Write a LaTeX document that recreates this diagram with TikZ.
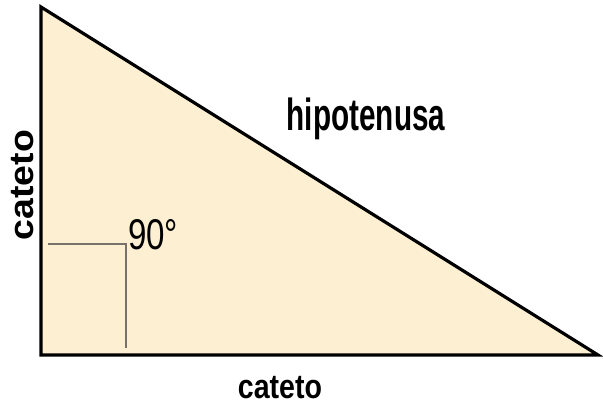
\documentclass[tikz,border=0pt]{standalone}
\usepackage{fontspec}
\setmainfont{Liberation Sans}
\definecolor{triFill}{HTML}{FCEFD2}
\definecolor{markGray}{HTML}{77736A}
\begin{document}
\begin{tikzpicture}[
    x=1pt, y=-1pt,
    triLabel/.style={font=\bfseries\fontsize{34}{34}\selectfont, inner sep=0pt, anchor=base, transform shape},
    angLabel/.style={font=\fontsize{43}{43}\selectfont, inner sep=0pt, anchor=base west, transform shape},
]
\useasboundingbox (0,0) rectangle (603,405);

% Triangle
\coordinate (A) at (41,7);
\coordinate (B) at (41,355);
\coordinate (C) at (598,355);
\draw[fill=triFill, line width=3.2pt] (A) -- (B) -- (C) -- cycle;

% Right angle mark
\coordinate (m1) at (48,244);
\coordinate (m2) at (126,244);
\coordinate (m3) at (126,348);
\draw[markGray, line width=1.5pt] (m1) -- (m2) -- (m3);

% Labels
\node[triLabel, font=\bfseries\fontsize{45}{45}\selectfont, xscale=0.66] (hyp) at (366,130) {hipotenusa};
\node[triLabel, xscale=0.84] (legB) at (280,398) {cateto};
\node[triLabel, rotate=90, xscale=1.1] (legL) at (33,185) {cateto};
\node[angLabel, xscale=0.77] (ang) at (128,249) {90°};
\end{tikzpicture}
\end{document}
